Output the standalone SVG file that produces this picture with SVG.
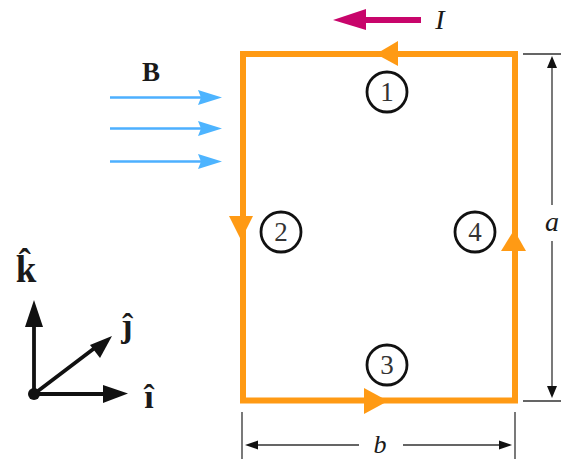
<svg xmlns="http://www.w3.org/2000/svg" width="561" height="459" viewBox="0 0 561 459">
<style>
.t{font-family:"Liberation Serif",serif;fill:#1a1a1a}
.i{font-style:italic}
.b{font-weight:bold}
.n circle{fill:#fff;stroke:#111;stroke-width:2.8}
.n text{font-size:27px;text-anchor:middle;fill:#333}
.dim{stroke:#333;stroke-width:1.3;fill:none}
.dh{fill:#111}
.blue{stroke:#4db0ff;stroke-width:2.6;fill:none}
.bh{fill:#4db4ff}
.ax{stroke:#111;stroke-width:3.8;fill:none}
.orange{fill:#ff9a14}
</style>
<rect width="561" height="459" fill="#fff"/>
<g id="connectors">
<path id="loop" d="M515 54H243V400.500H515Z" fill="none" stroke="#ff9a14" stroke-width="6"/>
<polygon class="orange" points="376,54 398,41 398,66"/>
<polygon class="orange" points="241,240 229,216 253,216"/>
<polygon class="orange" points="388,401 364,388 364,414"/>
<polygon class="orange" points="514,230 501,251 526,251"/>
<g id="current">
<path d="M355 20H421" stroke="#c8056b" stroke-width="6"/>
<polygon points="333,20 366,9 366,30" fill="#c8056b"/>
</g>
<g id="field">
<path class="blue" d="M110 97.500H205M110 128.500H205M110 161.500H205"/>
<polygon class="bh" points="222,97.500 198,90 201,97.500 198,105"/>
<polygon class="bh" points="222,128.500 198,121 201,128.500 198,136"/>
<polygon class="bh" points="222,161.500 198,154 201,161.500 198,169"/>
</g>
<g id="axes">
<path class="ax" d="M34 394V318M34 394H108M34 394L96 347"/>
<circle cx="34" cy="394" r="6" fill="#111"/>
<polygon class="dh" points="34,300 25,327 43,327"/>
<polygon class="dh" points="128,393.500 103,385 103,403"/>
<polygon class="dh" points="112,336 90,345 100,358"/>
</g>
<g id="dimensions">
<path class="dim" d="M523 54H561M523 401H561M552 60V205M552 241V392M242 412V459M515 412V459M252 445H359M403 445H506"/>
<polygon class="dh" points="552,56 547,68 557,68"/>
<polygon class="dh" points="552,398 547,386 557,386"/>
<polygon class="dh" points="245,445 258,440.500 258,449.500"/>
<polygon class="dh" points="512,445 499,440.500 499,449.500"/>
</g>
</g>
<g id="node1" class="n"><circle cx="387" cy="92" r="20"/><text x="387" y="101" class="t">1</text></g>
<g id="node2" class="n"><circle cx="281" cy="232" r="20"/><text x="281" y="241" class="t">2</text></g>
<g id="node3" class="n"><circle cx="387" cy="365" r="20"/><text x="387" y="374" class="t">3</text></g>
<g id="node4" class="n"><circle cx="475" cy="232" r="20"/><text x="475" y="241" class="t">4</text></g>
<g id="labels">
<text class="t b" x="151" y="81" font-size="27" text-anchor="middle">B</text>
<text class="t i" x="440" y="29" font-size="28" text-anchor="middle">I</text>
<text class="t i" x="552" y="231" font-size="28" text-anchor="middle">a</text>
<text class="t i" x="380" y="453" font-size="26" text-anchor="middle">b</text>
<text class="t b" x="26" y="282" font-size="37" text-anchor="middle">k̂</text>
<text class="t b" x="127" y="337" font-size="34" text-anchor="middle">ĵ</text>
<text class="t b" x="149" y="408" font-size="34" text-anchor="middle">î</text>
</g>
</svg>
